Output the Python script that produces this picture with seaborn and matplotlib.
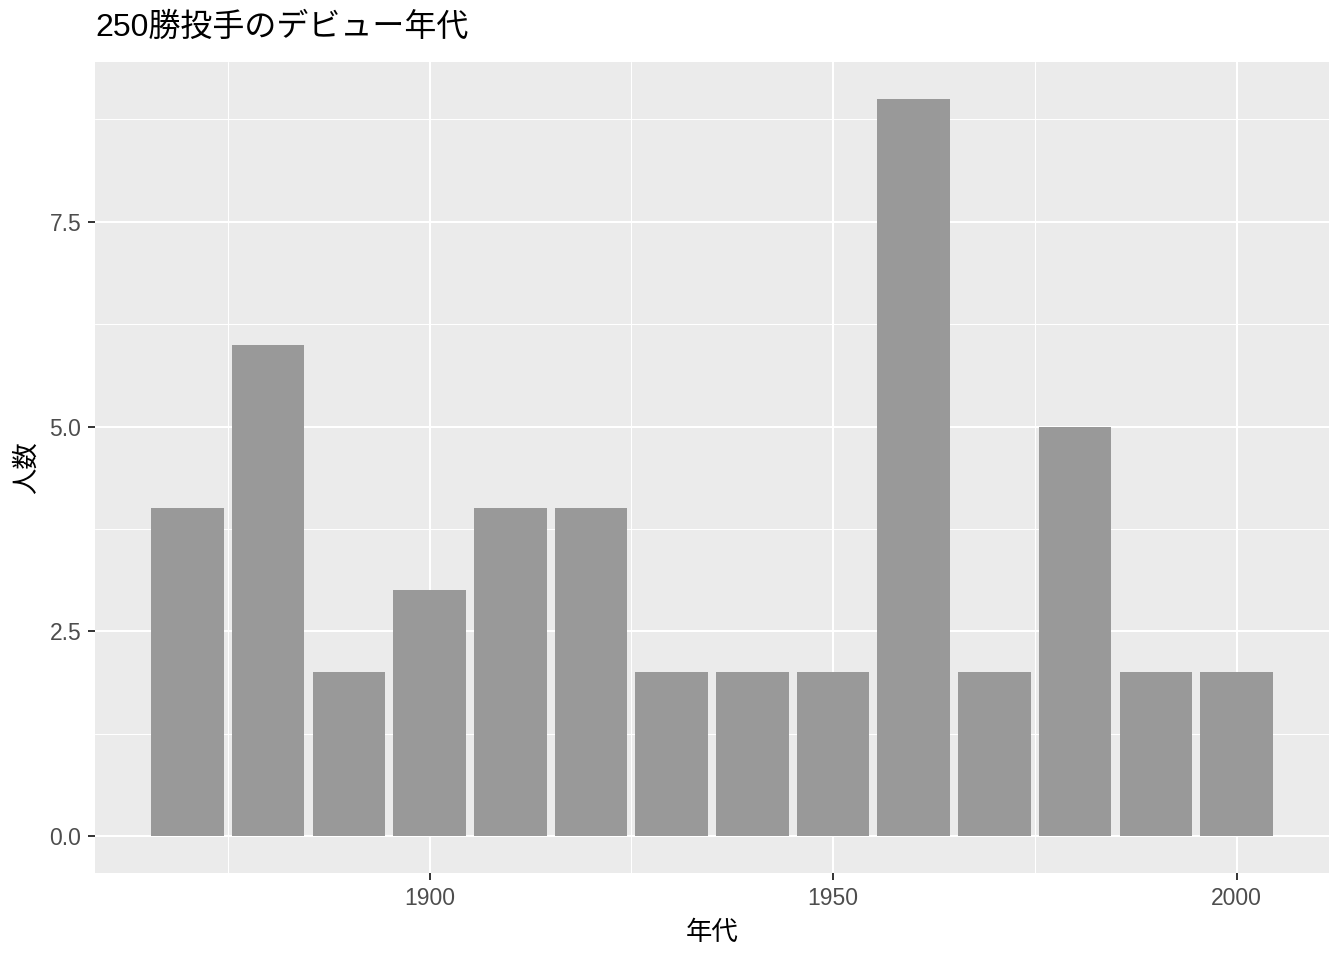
import matplotlib
matplotlib.use("Agg")
import matplotlib.pyplot as plt
import seaborn as sns
import pandas as pd
from matplotlib.ticker import FixedLocator

decades = [1870, 1880, 1890, 1900, 1910, 1920, 1930, 1940, 1950, 1960, 1970, 1980, 1990, 2000]
counts = [4, 6, 2, 3, 4, 4, 2, 2, 2, 9, 2, 5, 2, 2]
x_ticks = [1900, 1950, 2000]
y_ticks = [0.0, 2.5, 5.0, 7.5]
y_labels = ["0.0", "2.5", "5.0", "7.5"]
title = "250勝投手のデビュー年代"
xlabel = "年代"
ylabel = "人数"

df = pd.DataFrame({"decade": decades, "count": counts})

sns.set_style("white")
fam = ["Liberation Sans", "Noto Sans CJK JP", "DejaVu Sans"]
plt.rcParams["font.family"] = fam

W, H = 1344, 960
fig = plt.figure(figsize=(W / 100, H / 100), dpi=100)
fig.patch.set_facecolor("white")
ax = fig.add_axes([95 / W, (H - 873) / H, (1329 - 95) / W, (873 - 62) / H])

sns.barplot(data=df, x="decade", y="count", native_scale=True, width=0.9,
            color="#999999", saturation=1, ax=ax, zorder=3, linewidth=0)

ax.set_facecolor("#EBEBEB")
for s in ax.spines.values():
    s.set_visible(False)

xmin, xmax = 1865.5, 2004.5
xr = xmax - xmin
ax.set_xlim(xmin - 0.05 * xr, xmax + 0.05 * xr)
ax.set_ylim(-0.45, 9.45)

ax.xaxis.set_major_locator(FixedLocator(x_ticks))
ax.xaxis.set_minor_locator(FixedLocator([1875, 1925, 1975]))
ax.yaxis.set_major_locator(FixedLocator(y_ticks))
ax.yaxis.set_minor_locator(FixedLocator([1.25, 3.75, 6.25, 8.75]))
ax.set_xticklabels([str(t) for t in x_ticks])
ax.set_yticklabels(y_labels)

ax.grid(True, which="major", color="white", linewidth=1.5, zorder=1)
ax.grid(True, which="minor", color="white", linewidth=0.75, zorder=1)
ax.set_axisbelow(True)

ax.tick_params(which="major", length=5.3, width=1.4, color="#333333",
               labelsize=16.5, labelcolor="#4D4D4D", pad=4.5,
               bottom=True, left=True)
ax.tick_params(which="minor", length=0, bottom=False, left=False)

ax.set_xlabel(xlabel, fontsize=19, color="black", labelpad=8, family=fam)
ax.set_ylabel(ylabel, fontsize=19, color="black", labelpad=8, family=fam)

fig.text(95 / W, 1 - 28 / H, title, fontsize=23, color="black",
         ha="left", va="center", family=fam)

fig.savefig("out.png", dpi=100)
